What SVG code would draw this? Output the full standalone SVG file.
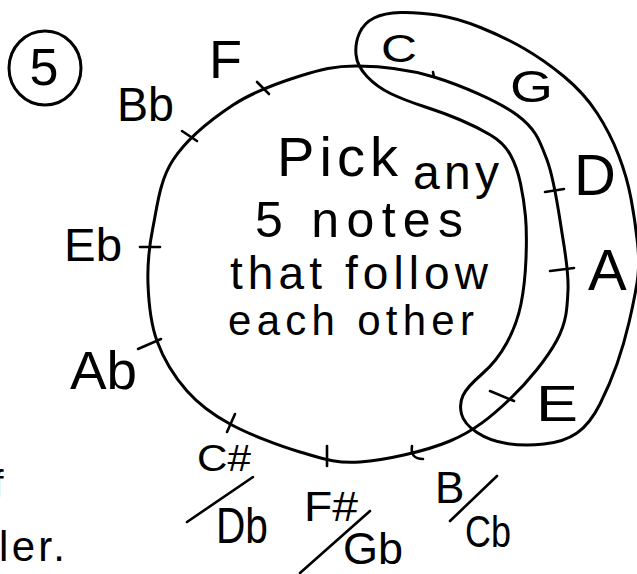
<svg xmlns="http://www.w3.org/2000/svg" width="637" height="574" viewBox="0 0 637 574">
<style>
.ln{fill:none;stroke:#000;stroke-width:3;stroke-linecap:round;stroke-linejoin:round}
.tk{fill:none;stroke:#000;stroke-width:2.6;stroke-linecap:round}
text{font-family:"Liberation Sans","DejaVu Sans",sans-serif;fill:#000}
</style>
<rect width="637" height="574" fill="#fff"/>
<g id="badge">
<ellipse cx="45" cy="68" rx="36" ry="37" class="ln"/>
<text x="44" y="85" font-size="52" text-anchor="middle">5</text>
</g>
<g id="connectors">
<path id="ring" class="ln" d="M357,66 C379.3,66.2 407.3,68.8 434,77 C460.7,85.2 498.2,101.2 517,115 C535.8,128.8 539.5,140.3 547,160 C554.5,179.7 558.5,211.3 562,233 C565.5,254.7 568.8,272.2 568,290 C567.2,307.8 566.7,321.8 557,340 C547.3,358.2 527.8,382.2 510,399 C492.2,415.8 475,430.5 450,441 C425,451.5 385,460.2 360,462 C335,463.8 321.7,458.3 300,452 C278.3,445.7 248.8,434.2 230,424 C211.2,413.8 199.2,404.8 187,391 C174.8,377.2 163.5,358.8 157,341 C150.5,323.2 148.7,303 148,284 C147.3,265 148.8,247.7 153,227 C157.2,206.3 159.7,180.3 173,160 C186.3,139.7 211.8,119 233,105 C254.2,91 279.3,82.5 300,76 C320.7,69.5 334.7,65.8 357,66 Z"/>
<path id="highlight" class="ln" d="M356,54.5 Q355,43 359.5,33 Q364,23 374,18 Q384,13 400.5,12.5 Q417,12 437,15 Q457,18 480.5,27.5 Q504,37 524,48.5 Q544,60 564,76.5 Q584,93 597,113 Q610,133 618.5,155 Q627,177 631,198.5 Q635,220 637.5,242.5 Q640,265 637,283 Q634,301 629,322.5 Q624,344 617,364 Q610,384 600,404 Q590,424 577,433 Q564,442 544,444 Q524,446 507,443.5 Q490,441 477,432.5 Q464,424 461.5,414 Q459,404 463,395.5 Q467,387 482,374 Q497,361 507,342.5 Q517,324 521,304 Q525,284 526,258.5 Q527,233 525.5,216.5 Q524,200 520.5,183.5 Q517,167 510.5,155 Q504,143 490.5,135 Q477,127 460.5,120 Q444,113 424,106.5 Q404,100 390.5,93.5 Q377,87 367,76.5 Q357,66 356,54.5 Z"/>
<g id="ticks">
<line class="tk" x1="257" y1="82" x2="269" y2="94"/>
<line class="tk" x1="182" y1="131" x2="197" y2="141"/>
<line class="tk" x1="140" y1="247" x2="160" y2="247"/>
<line class="tk" x1="138" y1="349" x2="161" y2="339"/>
<line class="tk" x1="235" y1="414" x2="227" y2="432"/>
<line class="tk" x1="327" y1="446" x2="327" y2="466"/>
<path class="tk" d="M412,446 Q410,459 423,459"/>
<line class="tk" x1="490" y1="391" x2="514" y2="401"/>
<line class="tk" x1="545" y1="192" x2="564" y2="189"/>
<line class="tk" x1="550" y1="271" x2="574" y2="268"/>
<line class="tk" x1="433" y1="72" x2="434" y2="77"/>
</g>
<g id="slashes">
<line class="tk" x1="187" y1="522" x2="253" y2="477"/>
<line class="tk" x1="300" y1="573" x2="370" y2="511"/>
<line class="tk" x1="450" y1="521" x2="497" y2="476"/>
</g>
</g>
<g id="note-C"><text x="381" y="62" font-size="38" textLength="36" lengthAdjust="spacingAndGlyphs">C</text></g>
<g id="note-G"><text x="510" y="102" font-size="44" textLength="43" lengthAdjust="spacingAndGlyphs">G</text></g>
<g id="note-D"><text x="574" y="195" font-size="58">D</text></g>
<g id="note-A"><text x="588" y="290" font-size="58">A</text></g>
<g id="note-E"><text x="536" y="421" font-size="50" textLength="42" lengthAdjust="spacingAndGlyphs">E</text></g>
<g id="note-B"><text x="435" y="503" font-size="44">B</text><text x="465" y="547" font-size="44" textLength="46" lengthAdjust="spacingAndGlyphs">Cb</text></g>
<g id="note-Fsharp"><text x="304" y="521" font-size="42" textLength="54" lengthAdjust="spacingAndGlyphs">F#</text><text x="343" y="564" font-size="44" textLength="60" lengthAdjust="spacingAndGlyphs">Gb</text></g>
<g id="note-Csharp"><text x="197" y="471" font-size="36" textLength="54" lengthAdjust="spacingAndGlyphs">C#</text><text x="216" y="543" font-size="50" textLength="52" lengthAdjust="spacingAndGlyphs">Db</text></g>
<g id="note-Ab"><text x="70" y="389" font-size="54" textLength="67" lengthAdjust="spacingAndGlyphs">Ab</text></g>
<g id="note-Eb"><text x="64" y="261" font-size="46" textLength="58" lengthAdjust="spacingAndGlyphs">Eb</text></g>
<g id="note-Bb"><text x="117" y="121" font-size="48" textLength="57" lengthAdjust="spacingAndGlyphs">Bb</text></g>
<g id="note-F"><text x="209" y="78" font-size="54">F</text></g>
<g id="instruction">
<text x="277" y="176" font-size="56" textLength="121" lengthAdjust="spacing">Pick</text>
<text x="413" y="189" font-size="48" textLength="86" lengthAdjust="spacing">any</text>
<text x="255" y="237" font-size="50" textLength="208" lengthAdjust="spacing">5 notes</text>
<text x="230" y="289" font-size="46" textLength="258" lengthAdjust="spacing">that follow</text>
<text x="228" y="335" font-size="42" textLength="246" lengthAdjust="spacing">each other</text>
</g>
<g id="margin-text">
<text x="-7" y="497" font-size="38">f</text>
<text x="-1" y="561" font-size="42" textLength="66" lengthAdjust="spacing">ler.</text>
</g>
</svg>
